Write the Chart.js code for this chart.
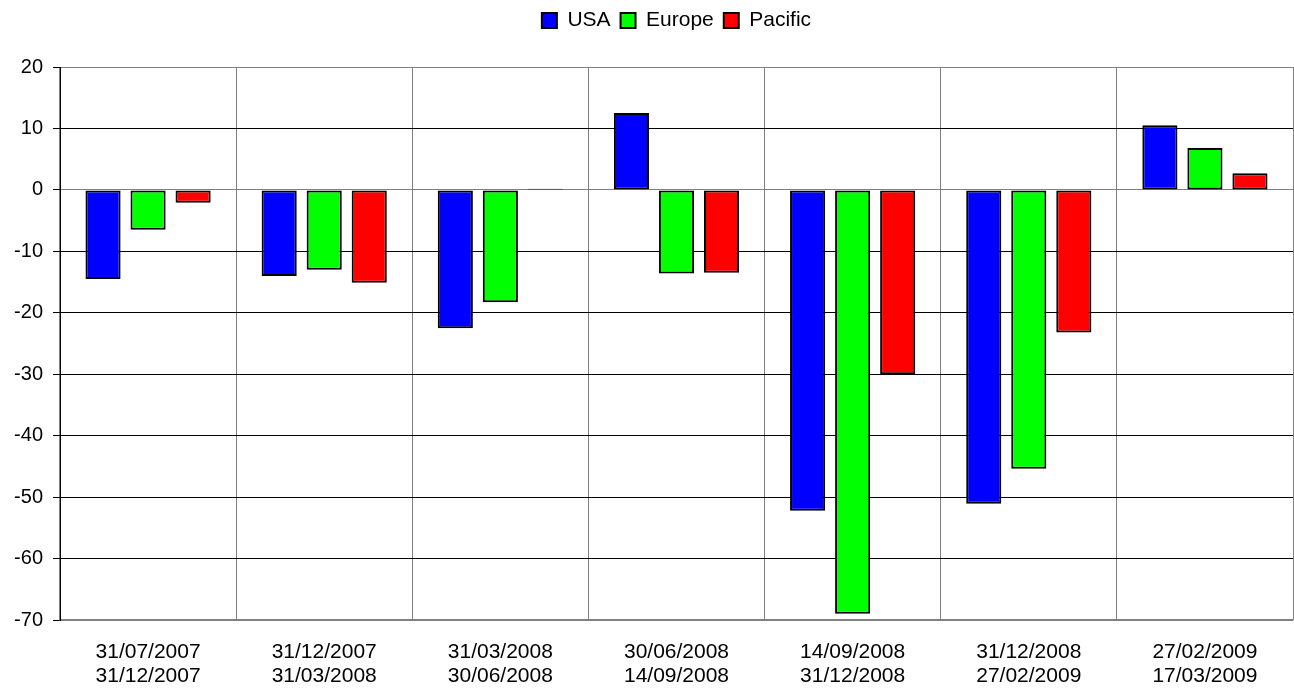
<!DOCTYPE html>
<html>
<head>
<meta charset="utf-8">
<script src="https://cdn.jsdelivr.net/npm/chart.js@4"></script>
<style>
  html, body { margin: 0; padding: 0; background: #fff; }
  #wrap { width: 1294px; height: 690px; }
</style>
</head>
<body>
<div id="wrap"><canvas id="myChart"></canvas></div>
<script>
"use strict";

// Periods (two-line category labels)
const periods = [
  ["31/07/2007", "31/12/2007"],
  ["31/12/2007", "31/03/2008"],
  ["31/03/2008", "30/06/2008"],
  ["30/06/2008", "14/09/2008"],
  ["14/09/2008", "31/12/2008"],
  ["31/12/2008", "27/02/2009"],
  ["27/02/2009", "17/03/2009"],
];

// Returns per region
const usa = [-14.5, -14, -22.5, 12.5, -52.2, -51.1, 10.5];
const europe = [-6.5, -13, -18.3, -13.6, -69, -45.4, 6.8];
const pacific = [-2.1, -15.1, 0.2, -13.5, -30, -23.2, 2.7];

const yMin = -70;
const yMax = 20;

const GRAY = "#808080";
const FONT = "'Liberation Sans', Arial, sans-serif";

// Fixed legend area height, and nudge the legend a bit right like the original
const legendTweak = {
  id: "legendTweak",
  beforeInit(chart) {
    const origFit = chart.legend.fit;
    chart.legend.fit = function () {
      origFit.bind(chart.legend)();
      this.height = 67;
    };
  },
  beforeDraw(chart) {
    const lg = chart.legend;
    if (!lg._shifted) {
      lg.left += 30;
      lg.right += 30;
      lg._shifted = true;
    }
  },
};

const bar = (label, data, color) => ({
  label,
  data,
  backgroundColor: color,
  borderColor: "#000",
  borderWidth: 2,
  borderSkipped: false,
  categoryPercentage: 0.767,
  barPercentage: 0.78,
});

const ctx = document.getElementById("myChart").getContext("2d");
const myChart = new Chart(ctx, {
  type: "bar",
  data: {
    labels: periods,
    datasets: [
      bar("USA", usa, "#0000ff"),
      bar("Europe", europe, "#00ff00"),
      bar("Pacific", pacific, "#ff0000"),
    ],
  },
  plugins: [legendTweak],
  options: {
    responsive: true,
    maintainAspectRatio: false,
    animation: false,
    layout: { padding: { top: 0, right: 1, left: 0, bottom: 0 } },
    plugins: {
      legend: {
        position: "top",
        labels: {
          color: "#000",
          font: { family: FONT, size: 21 },
          boxWidth: 15,
          boxHeight: 15,
          padding: 10,
        },
      },
      tooltip: { enabled: false },
    },
    scales: {
      x: {
        grid: {
          color: GRAY,
          lineWidth: 1,
          drawTicks: false,
        },
        border: { color: GRAY, width: 1.5 },
        ticks: {
          color: "#000",
          font: { family: FONT, size: 21, lineHeight: 1.15 },
          padding: 20,
          maxRotation: 0,
        },
        afterFit(scale) {
          scale.height = 70;
        },
      },
      y: {
        min: yMin,
        max: yMax,
        ticks: {
          stepSize: 10,
          color: "#000",
          font: { family: FONT, size: 20 },
          padding: 10,
        },
        grid: {
          // black gridlines, gray zero line and plot edge
          color: (c) => {
            const v = c.tick ? c.tick.value : null;
            return v === 0 || v === yMax || v === yMin ? GRAY : "#000";
          },
          tickColor: "#000",
          tickLength: 7,
          lineWidth: 1,
        },
        border: { color: "#000", width: 1 },
        afterFit(scale) {
          scale.width = 60;
        },
      },
    },
  },
});
</script>
</body>
</html>
